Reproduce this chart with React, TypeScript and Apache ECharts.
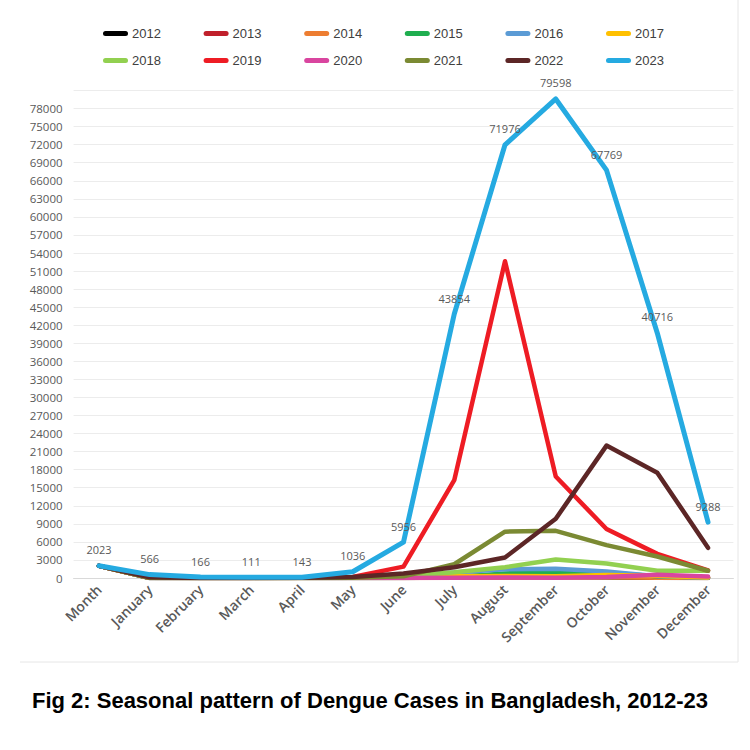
import React, { useEffect, useRef } from "react";
import * as echarts from "echarts";

// Category axis: a leading "Month" slot followed by the calendar months
const months = [
  "Month", "January", "February", "March", "April", "May", "June",
  "July", "August", "September", "October", "November", "December",
];

const years = [
  "2012", "2013", "2014", "2015", "2016", "2017",
  "2018", "2019", "2020", "2021", "2022", "2023",
];

const colors = [
  "#000000", "#c0202b", "#ed7d31", "#1fae4f", "#5b9bd5", "#ffc000",
  "#92d050", "#ee1c24", "#d9459f", "#7b8a33", "#5c2626", "#25aae1",
];

// Monthly dengue cases; the first entry sits in the "Month" slot
const cases2012 = [2012, 9, 1, 0, 0, 13, 14, 140, 142, 155, 130, 54, 13];
const cases2013 = [2013, 13, 4, 0, 3, 28, 170, 334, 381, 367, 310, 149, 56];
const cases2014 = [2014, 15, 4, 1, 1, 8, 15, 40, 67, 87, 107, 37, 6];
const cases2015 = [2015, 6, 1, 1, 0, 3, 30, 171, 765, 965, 869, 271, 80];
const cases2016 = [2016, 13, 3, 17, 38, 70, 254, 926, 1451, 1544, 1077, 313, 48];
const cases2017 = [2017, 92, 58, 29, 73, 134, 267, 286, 346, 302, 504, 375, 103];
const cases2018 = [2018, 26, 7, 19, 29, 52, 295, 946, 1796, 3087, 2406, 1192, 1192];
const cases2019 = [2019, 38, 18, 17, 58, 184, 1884, 16253, 52636, 16856, 8143, 4011, 1247];
const cases2020 = [2020, 199, 45, 27, 25, 10, 20, 23, 68, 47, 163, 545, 231];
const cases2021 = [2021, 32, 9, 13, 3, 43, 272, 2286, 7698, 7841, 5458, 3567, 1207];
const cases2022 = [2022, 126, 20, 20, 23, 163, 737, 1800, 3400, 9850, 22000, 17500, 5024];
const cases2023 = [2023, 566, 166, 111, 143, 1036, 5956, 43854, 71976, 79598, 67769, 40716, 9288];

const seriesValues = [
  cases2012, cases2013, cases2014, cases2015, cases2016, cases2017,
  cases2018, cases2019, cases2020, cases2021, cases2022, cases2023,
];

const yMax = 81000;
const yStep = 3000;

const titleText = "Fig 2: Seasonal pattern of Dengue Cases in Bangladesh, 2012-23";

const legendIcon = "path://M3,0H27A3,3,0,0,1,27,6H3A3,3,0,0,1,3,0Z";

export default function App() {
  const ref = useRef<HTMLDivElement>(null);

  useEffect(() => {
    if (!ref.current) return;
    const chart = echarts.init(ref.current, undefined, { renderer: "svg" });

    const legends = years.map((y, i) => ({
      data: [y],
      left: 103 + (i % 6) * 100.6,
      top: i < 6 ? 27 : 54,
      padding: 0,
      icon: legendIcon,
      itemWidth: 31,
      itemHeight: 5,
      itemGap: 0,
      selectedMode: false,
      textStyle: {
        fontFamily: "Liberation Sans Narrow, Arial Narrow, sans-serif",
        fontSize: 13,
        color: "#404040",
        padding: [0, 0, 0, -4],
      },
    }));

    const series = years.map((y, i) => {
      const isLast = i === years.length - 1;
      return {
        name: y,
        type: "line",
        data: seriesValues[i],
        symbol: isLast ? "circle" : "none",
        showSymbol: isLast,
        symbolSize: 1,
        lineStyle: { width: isLast ? 5 : 4.5, color: colors[i], cap: "round", join: "round" },
        itemStyle: { color: colors[i] },
        label: isLast
          ? {
              show: true,
              position: "top",
              distance: 10,
              fontFamily: "Open Sans, sans-serif",
              fontSize: 11,
              color: "#595959",
            }
          : { show: false },
      };
    });

    chart.setOption({
      animation: false,
      backgroundColor: "#ffffff",
      legend: legends,
      grid: { left: 73.6, right: 16.6, top: 90.5, bottom: 172 },
      xAxis: {
        type: "category",
        data: months,
        boundaryGap: true,
        axisLine: { show: true, lineStyle: { color: "#d9d9d9", width: 1 } },
        axisTick: { show: false },
        axisLabel: {
          rotate: 45,
          interval: 0,
          margin: 9,
          fontFamily: "Open Sans, sans-serif",
          fontSize: 14,
          fontWeight: 600,
          color: "#595959",
        },
      },
      yAxis: {
        type: "value",
        min: 0,
        max: yMax,
        interval: yStep,
        axisLine: { show: false },
        axisTick: { show: false },
        splitLine: { show: true, lineStyle: { color: "#ececec", width: 1 } },
        axisLabel: {
          margin: 11,
          showMaxLabel: false,
          formatter: (v: number) => String(v),
          fontFamily: "Open Sans, sans-serif",
          fontSize: 11.5,
          color: "#595959",
        },
      },
      graphic: [
        {
          type: "line",
          shape: { x1: 20, y1: 662, x2: 738, y2: 662 },
          style: { stroke: "#e6e6e6", lineWidth: 1 },
        },
        {
          type: "line",
          shape: { x1: 738, y1: 0, x2: 738, y2: 662 },
          style: { stroke: "#e6e6e6", lineWidth: 1 },
        },
        {
          type: "text",
          x: 370,
          y: 700,
          style: {
            text: titleText,
            align: "center",
            verticalAlign: "middle",
            fontFamily: "Liberation Sans Narrow, Arial Narrow, sans-serif",
            fontWeight: "bold",
            fontSize: 22,
            fill: "#000000",
          },
        },
      ],
      series,
    });

    return () => chart.dispose();
  }, []);

  return (
    <div
      ref={ref}
      style={{ position: "fixed", left: 0, top: 0, width: 750, height: 750 }}
    />
  );
}
